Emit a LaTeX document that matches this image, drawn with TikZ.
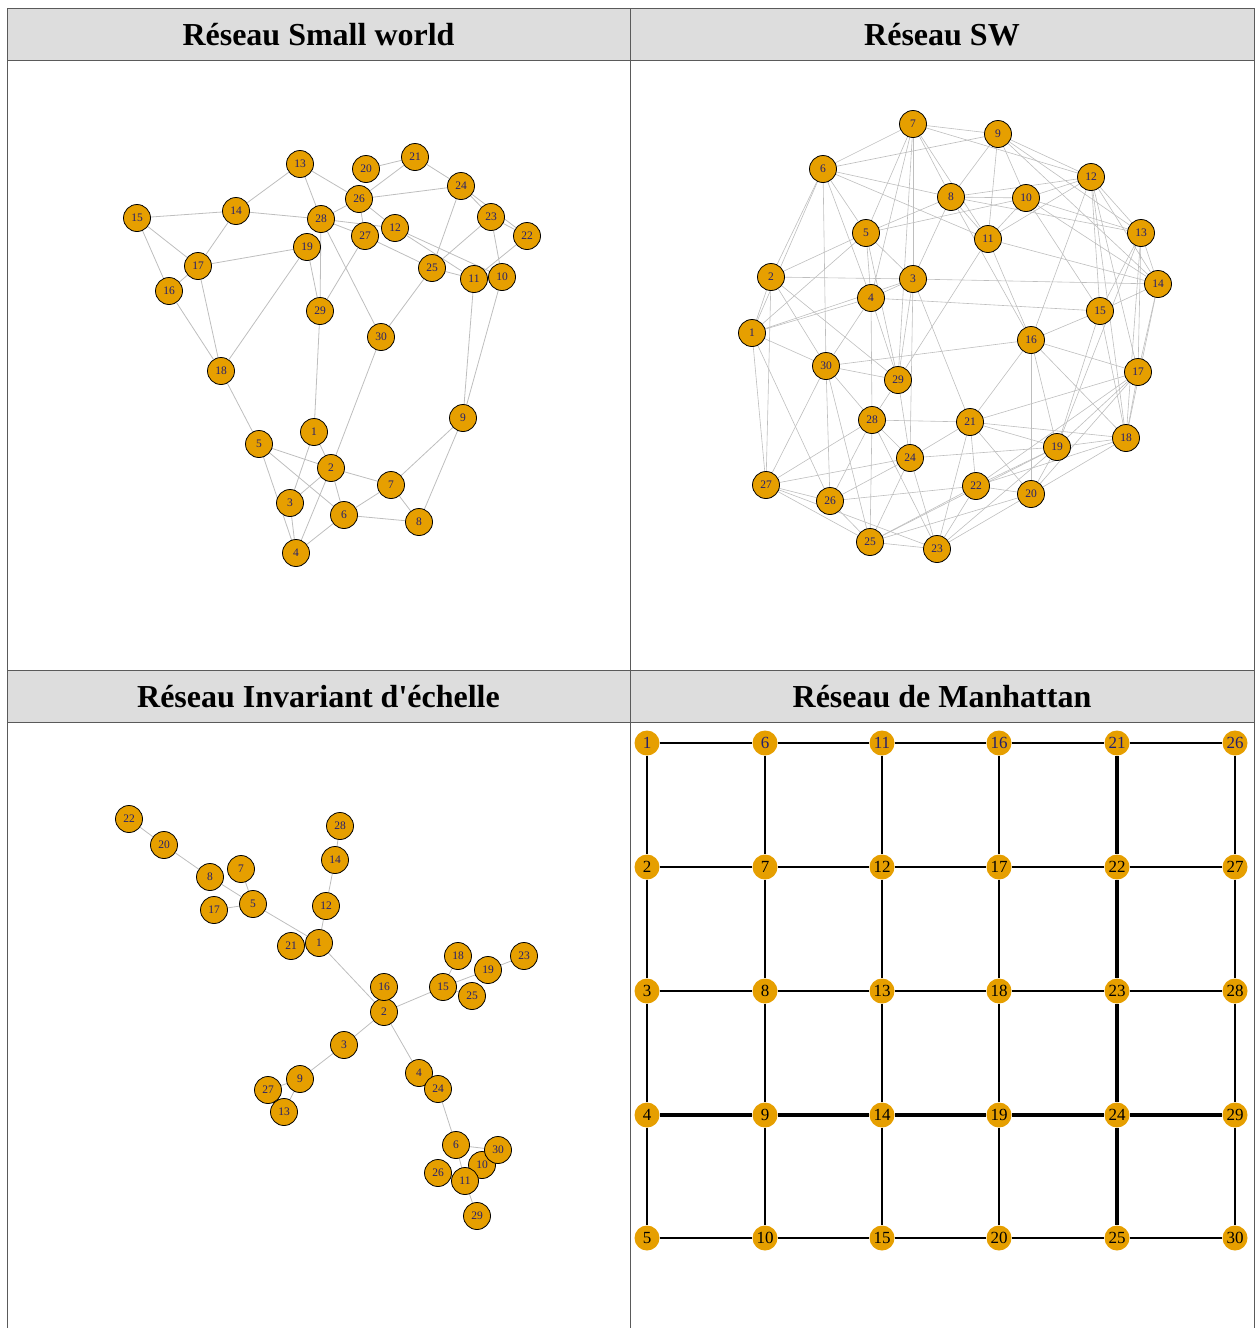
\documentclass[tikz,border=0pt]{standalone}
\usepackage{fontspec}
\setmainfont{Liberation Serif}
\usepackage{tikz}
\usetikzlibrary{backgrounds}
\definecolor{Orange}{RGB}{230,159,0}
\definecolor{LinkGray}{RGB}{190,190,190}
\definecolor{HeadGray}{RGB}{221,221,221}
\definecolor{RuleGray}{RGB}{90,90,90}
\definecolor{LabelBlue}{RGB}{35,30,110}

\begin{document}
\begin{tikzpicture}[x=1pt, y=-1pt,
	vtx/.style={circle, draw=black, line width=0.8pt, fill=Orange, inner sep=0pt, minimum size=27pt, text=LabelBlue, font=\fontsize{11.5}{11.5}\selectfont},
	gvtx/.style={circle, fill=Orange, inner sep=0pt, minimum size=25pt, font=\fontsize{17}{17}\selectfont},
	lnk/.style={LinkGray, line width=0.8pt},
	gthin/.style={draw=gray!55, double=black, double distance=1.2pt, line width=0.8pt},
	gmid/.style={black, line width=2pt},
	gbold/.style={black, line width=3.4pt},
	head/.style={font=\fontsize{32}{32}\selectfont\bfseries}]
	\useasboundingbox (0,0) rectangle (1255,1328);
	% table
	\fill[HeadGray] (7,8) rectangle (1254,60);
	\fill[HeadGray] (7,670) rectangle (1254,722);
	\draw[RuleGray, line width=1pt] (7,1328) -- (7,8) -- (1254,8) -- (1254,1328);
	\draw[RuleGray, line width=1pt] (630,8) -- (630,1328);
	\draw[RuleGray, line width=1pt] (7,60) -- (1254,60);
	\draw[RuleGray, line width=1pt] (7,670) -- (1254,670);
	\draw[RuleGray, line width=1pt] (7,722) -- (1254,722);
	\node[head] (tSW) at (318.5,35) {Réseau Small world};
	\node[head] (tSWb) at (942,35) {Réseau SW};
	\node[head] (tSF) at (318.5,697) {Réseau Invariant d\textquotesingle échelle};
	\node[head] (tMH) at (942,697) {Réseau de Manhattan};
	% small world
	\foreach \n/\x/\y in {1/314/432, 2/331/468, 3/290/503, 4/296/553, 5/259/444, 6/344/515, 7/391/485, 8/419/522, 9/463/418, 10/502/277, 11/474/279, 12/395/228, 13/300/164, 14/236/211, 15/137/218, 16/169/291, 17/198/266, 18/221/371, 19/307/247, 20/366/169, 21/415/157, 22/527/236, 23/491/217, 24/461/186, 25/432/268, 26/359/199, 27/365/236, 28/321/219, 29/320/311, 30/381/337}
		\node[vtx] (a\n) at (\x,\y) {\n};
	\begin{scope}[on background layer]
		\foreach \u/\v in {15/14, 15/17, 15/16, 14/17, 14/28, 14/13, 13/28, 13/26, 20/21, 21/26, 21/24, 26/24, 26/28, 26/27, 26/12, 28/27, 28/12, 24/23, 24/22, 23/22, 23/10, 23/25, 24/25, 22/11, 12/11, 12/10, 27/25, 25/11, 25/30, 17/19, 17/16, 17/18, 16/18, 19/18, 19/29, 28/29, 27/29, 28/30, 11/9, 10/9, 29/1, 18/5, 1/2, 30/2, 5/2, 5/6, 5/4, 1/3, 2/7, 2/6, 2/4, 3/2, 3/4, 7/6, 7/8, 7/9, 9/8, 6/8, 6/4}
			\draw[lnk] (a\u) -- (a\v);
	\end{scope}
	% SW
	\foreach \n/\x/\y in {1/752/333, 2/771/277, 3/913/279, 4/871/298, 5/866/233, 6/823/169, 7/913/124, 8/951/197, 9/998/134, 10/1026/198, 11/988/239, 12/1091/177, 13/1141/233, 14/1158/284, 15/1100/311, 16/1031/340, 17/1138/372, 18/1126/438, 19/1057/447, 20/1031/494, 21/970/422, 22/976/486, 23/937/549, 24/910/458, 25/870/542, 26/830/501, 27/766/485, 28/872/420, 29/898/380, 30/826/366}
		\node[vtx] (b\n) at (\x,\y) {\n};
	\begin{scope}[on background layer]
		\foreach \u/\v in {7/6, 7/9, 7/12, 7/8, 7/5, 7/4, 7/3, 7/29, 7/11, 6/9, 6/8, 6/11, 6/2, 6/1, 6/30, 6/4, 6/5, 5/2, 5/8, 5/10, 5/4, 5/3, 5/1, 5/29, 2/3, 2/1, 2/27, 2/29, 2/30, 3/4, 3/8, 3/14, 3/29, 3/24, 3/21, 4/1, 4/30, 4/29, 4/28, 4/15, 1/3, 1/30, 1/27, 1/26, 8/9, 8/10, 8/12, 8/11, 8/16, 8/13, 9/10, 9/11, 9/12, 9/13, 9/14, 10/11, 10/12, 10/13, 10/15, 10/14, 11/12, 11/14, 11/16, 11/29, 12/13, 12/14, 12/15, 12/16, 12/17, 12/18, 13/14, 13/15, 13/17, 13/18, 13/19, 14/15, 14/17, 14/18, 15/16, 15/19, 15/18, 16/30, 16/21, 16/20, 16/19, 16/18, 16/17, 17/21, 17/19, 17/20, 17/22, 17/18, 18/19, 18/20, 18/21, 18/22, 19/21, 19/22, 19/20, 19/24, 19/25, 19/23, 21/22, 21/20, 21/23, 21/24, 21/28, 22/20, 22/23, 22/25, 22/26, 20/23, 20/25, 24/27, 24/26, 24/25, 24/23, 24/28, 24/29, 25/23, 25/26, 25/27, 25/28, 25/30, 26/27, 26/28, 26/30, 27/23, 27/30, 27/28, 28/29, 28/30, 28/23, 29/30}
			\draw[lnk, line width=0.6pt] (b\u) -- (b\v);
	\end{scope}
	% scale free
	\foreach \n/\x/\y in {1/319/943, 2/384/1012, 3/344/1045, 4/419/1073, 5/253/904, 6/456/1145, 7/241/869, 8/210/877, 9/300/1079, 10/482/1165, 11/465/1181, 12/326/906, 13/284/1112, 14/335/860, 15/443/987, 16/384/987, 17/214/910, 18/458/956, 19/488/970, 20/164/845, 21/291/946, 22/129/819, 23/524/956, 24/438/1089, 25/472/996, 26/438/1173, 27/268/1090, 28/340/826, 29/477/1216, 30/498/1150}
		\node[vtx] (c\n) at (\x,\y) {\n};
	\begin{scope}[on background layer]
		\foreach \u/\v in {22/20, 20/8, 8/5, 7/5, 17/5, 5/1, 28/14, 14/12, 12/1, 21/1, 1/2, 16/2, 2/15, 15/18, 15/19, 19/23, 15/25, 2/3, 3/9, 9/27, 9/13, 2/4, 4/24, 24/6, 6/30, 6/11, 11/10, 11/26, 11/29}
			\draw[lnk] (c\u) -- (c\v);
	\end{scope}
	% Manhattan
	\foreach \c/\x in {0/647, 1/765, 2/882, 3/999, 4/1117, 5/1235}{
		\foreach \r/\y in {1/743, 2/867, 3/991, 4/1115, 5/1238}{
			\pgfmathtruncatemacro{\n}{5*\c+\r}
			\ifnum\r=1
				\node[gvtx, text=LabelBlue] (d\n) at (\x,\y) {\n};
			\else
				\node[gvtx] (d\n) at (\x,\y) {\n};
			\fi
		}
	}
	\begin{scope}[on background layer]
		\foreach \u/\v in {1/2, 2/3, 3/4, 4/5, 16/17, 17/18, 18/19, 19/20, 26/27, 27/28, 28/29, 29/30, 1/6, 6/11, 11/16, 16/21, 21/26, 3/8, 8/13, 13/18, 18/23, 23/28, 5/10, 10/15, 15/20, 20/25, 25/30}
			\draw[gthin] (d\u) -- (d\v);
		\foreach \u/\v in {6/7, 7/8, 8/9, 9/10, 11/12, 12/13, 13/14, 14/15, 2/7, 7/12, 12/17, 17/22, 22/27}
			\draw[gmid] (d\u) -- (d\v);
		\foreach \u/\v in {21/22, 22/23, 23/24, 24/25, 4/9, 9/14, 14/19, 19/24, 24/29}
			\draw[gbold] (d\u) -- (d\v);
	\end{scope}
\end{tikzpicture}
\end{document}
